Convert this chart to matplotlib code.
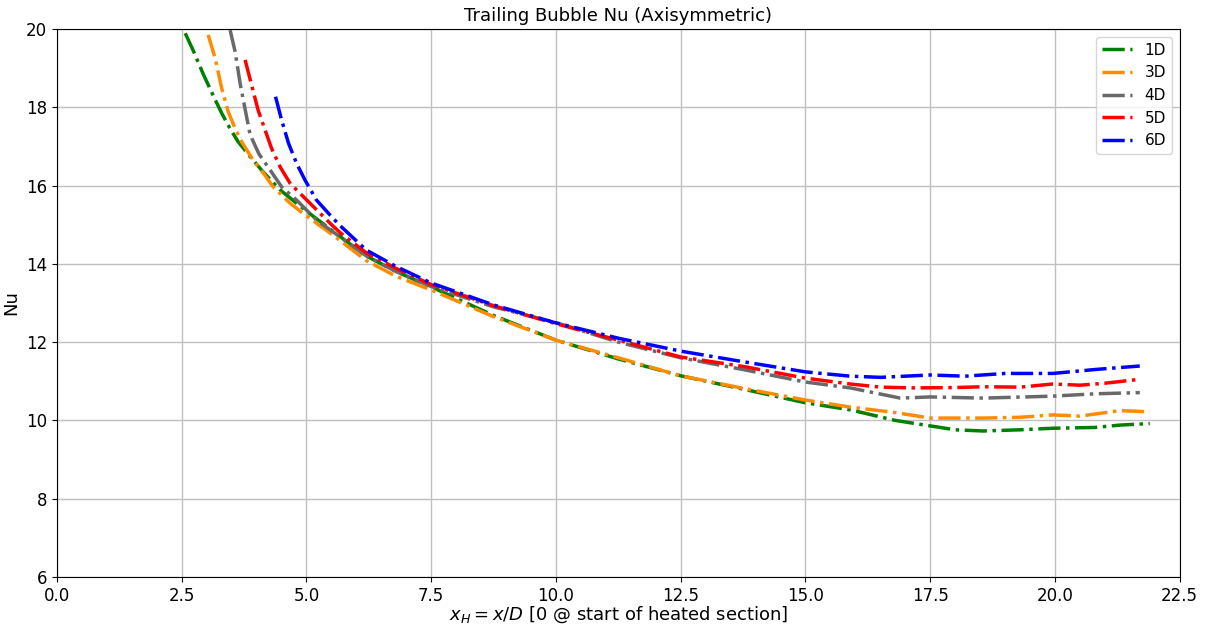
import numpy as np
import matplotlib
matplotlib.use('Agg')
import matplotlib.pyplot as plt

# curve values (x/D, Nu)
x_1d = [2.57, 2.73, 2.93, 3.13, 3.30, 3.47, 3.63, 3.87, 4.13, 4.47, 4.8, 5.14, 5.67, 6.2, 6.8, 7.5,
        8.75, 10.0, 11.25, 12.5, 13.75, 15.0, 15.9, 16.8, 17.5, 18.0, 18.56, 19.3, 19.96, 20.8, 21.3, 21.9]
nu_1d = [19.89, 19.45, 18.85, 18.3, 17.85, 17.45, 17.12, 16.74, 16.35, 15.89, 15.55, 15.21, 14.7, 14.2, 13.8, 13.41,
         12.68, 12.05, 11.57, 11.14, 10.8, 10.45, 10.27, 10.0, 9.86, 9.76, 9.73, 9.76, 9.8, 9.82, 9.88, 9.92]

x_3d = [3.03, 3.17, 3.30, 3.43, 3.57, 3.70, 3.93, 4.13, 4.33, 4.67, 4.93, 5.47, 5.67, 6.2, 6.8, 7.5,
        8.75, 10.0, 11.25, 12.5, 13.75, 15.0, 15.9, 16.8, 17.5, 18.56, 19.3, 19.96, 20.5, 21.3, 21.9]
nu_3d = [19.85, 19.25, 18.49, 17.89, 17.46, 17.12, 16.65, 16.33, 15.97, 15.55, 15.29, 14.79, 14.6, 14.08, 13.68, 13.33,
         12.65, 12.05, 11.6, 11.14, 10.82, 10.52, 10.34, 10.2, 10.06, 10.06, 10.08, 10.14, 10.11, 10.25, 10.22]

x_4d = [3.47, 3.57, 3.67, 3.77, 3.87, 4.05, 4.27, 4.5, 4.8, 5.2, 5.67, 6.2, 6.8, 7.5, 8.75, 10.0,
        11.25, 12.5, 13.75, 15.0, 15.9, 16.9, 17.5, 18.56, 19.96, 20.8, 21.7]
nu_4d = [19.97, 19.42, 18.61, 17.95, 17.3, 16.8, 16.4, 15.97, 15.63, 15.12, 14.69, 14.2, 13.8, 13.42, 12.9, 12.5,
         12.0, 11.6, 11.3, 10.98, 10.83, 10.57, 10.6, 10.57, 10.62, 10.68, 10.71]

x_5d = [3.77, 3.9, 4.03, 4.17, 4.3, 4.47, 4.67, 4.87, 5.14, 5.47, 5.67, 6.2, 6.8, 7.5, 8.75, 10.0,
        11.25, 12.5, 13.75, 15.0, 15.9, 16.5, 17.2, 18.0, 18.56, 19.3, 19.96, 20.5, 21.0, 21.7]
nu_5d = [19.21, 18.57, 17.93, 17.42, 16.95, 16.48, 16.06, 15.8, 15.46, 15.04, 14.8, 14.28, 13.88, 13.47, 12.93, 12.47,
         12.05, 11.62, 11.38, 11.08, 10.93, 10.85, 10.83, 10.84, 10.86, 10.85, 10.93, 10.9, 10.95, 11.05]

x_6d = [4.38, 4.5, 4.64, 4.8, 4.97, 5.2, 5.47, 5.67, 6.2, 6.8, 7.5, 8.75, 10.0, 11.25, 12.5, 13.75,
        15.0, 15.9, 16.5, 17.5, 18.2, 19.0, 19.96, 20.8, 21.7]
nu_6d = [18.27, 17.68, 17.08, 16.57, 16.14, 15.63, 15.25, 14.98, 14.35, 13.93, 13.51, 12.95, 12.49, 12.1, 11.77, 11.5,
         11.24, 11.13, 11.1, 11.16, 11.13, 11.2, 11.2, 11.3, 11.39]

labels = ['1D', '3D', '4D', '5D', '6D']
colors = ['green', 'darkorange', 'dimgray', 'red', 'blue']
xs = [x_1d, x_3d, x_4d, x_5d, x_6d]
ys = [nu_1d, nu_3d, nu_4d, nu_5d, nu_6d]

fig, ax = plt.subplots(figsize=(12.05, 6.26), dpi=100)
fig.subplots_adjust(left=0.0473, right=0.979, top=0.9537, bottom=0.0783)

for x, y, c, lab in zip(xs, ys, colors, labels):
    ax.plot(x, y, linestyle='-.', color=c, linewidth=2.5, label=lab)

ax.set_xlim(0, 22.5)
ax.set_ylim(6, 20)
ax.set_xticks(np.arange(0, 22.6, 2.5))
ax.set_yticks(np.arange(6, 20.1, 2))
ax.tick_params(labelsize=12)
ax.grid(True, color='#c0c0c0', linewidth=1)
ax.set_title('Trailing Bubble Nu (Axisymmetric)', fontsize=13)
ax.set_xlabel(r'$x_H = x/D$ [0 @ start of heated section]', fontsize=13, labelpad=0)
ax.set_ylabel('Nu', fontsize=13)
ax.legend(loc='upper right', fontsize=11, labelspacing=0.5)

fig.savefig('out.png', dpi=100)
